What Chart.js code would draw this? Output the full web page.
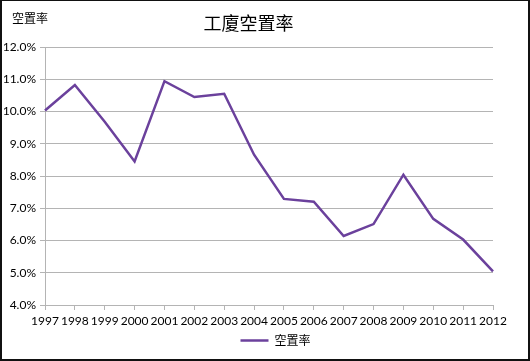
<!DOCTYPE html>
<html>
<head>
<meta charset="utf-8">
<script src="https://cdn.jsdelivr.net/npm/chart.js@4/dist/chart.umd.min.js"></script>
<style>
  html, body { margin: 0; padding: 0; background: #fff; }
  #wrap { position: relative; width: 530px; height: 361px; }
  #frame { position: absolute; left: 0; top: 0; width: 530px; height: 361px; box-sizing: border-box;
           border: 2px solid #111; border-top-width: 1px; pointer-events: none; }
  #ytitle { position: absolute; left: 12px; top: 9px; font: 12px "Noto Sans CJK TC", sans-serif; color: #000; line-height: 18px; }
</style>
</head>
<body>
<div id="wrap">
  <canvas id="c" width="530" height="361"></canvas>
  <div id="ytitle">空置率</div>
  <div id="frame"></div>
</div>
<script>
const chartTitle = '工廈空置率';
const seriesName = '空置率';
const years = ['1997','1998','1999','2000','2001','2002','2003','2004','2005','2006','2007','2008','2009','2010','2011','2012'];
const vacancyRate = [10.03, 10.82, 9.68, 8.45, 10.94, 10.45, 10.55, 8.66, 7.29, 7.20, 6.14, 6.51, 8.04, 6.67, 6.03, 5.04];
const yMin = 4, yMax = 12, yStep = 1;

const purple = '#6b419c';
const gridColor = '#b4b4b4';
const tickFont = { family: 'Lato, "Open Sans", sans-serif', size: 12 };

const legendShift = {
  id: 'legendShift',
  afterLayout(chart) {
    if (chart.legend) { chart.legend.left += 27; chart.legend.right += 27; }
  }
};

new Chart(document.getElementById('c'), {
  type: 'line',
  data: {
    labels: years,
    datasets: [{
      label: seriesName,
      data: vacancyRate,
      borderColor: purple,
      backgroundColor: purple,
      borderWidth: 2.5,
      pointRadius: 0,
      tension: 0,
      fill: false
    }]
  },
  plugins: [legendShift],
  options: {
    responsive: false,
    animation: false,
    devicePixelRatio: 1,
    layout: { padding: { left: 4, right: 37, top: 0, bottom: 4.6 } },
    plugins: {
      title: {
        display: true,
        text: chartTitle,
        color: '#000',
        font: { family: '"Noto Sans CJK TC", sans-serif', size: 18, weight: 'normal' },
        padding: { top: 12, bottom: 13.4 }
      },
      legend: {
        display: true,
        position: 'bottom',
        labels: {
          usePointStyle: true,
          pointStyle: 'line',
          pointStyleWidth: 28,
          color: '#000',
          padding: 7,
          font: { family: '"Noto Sans CJK TC", sans-serif', size: 12 }
        }
      },
      tooltip: { enabled: false }
    },
    scales: {
      x: {
        offset: false,
        afterFit: (s) => { s.height = s.height - 5; },
        grid: { display: true, drawOnChartArea: false, drawTicks: true, tickLength: 5, color: gridColor },
        border: { display: true, color: gridColor, width: 1 },
        ticks: { color: '#000', font: tickFont, padding: 4, maxRotation: 0, autoSkip: false }
      },
      y: {
        min: yMin, max: yMax,
        afterFit: (s) => { s.width = 41; },
        grid: { color: gridColor, lineWidth: 1, drawTicks: true, tickLength: 5 },
        border: { display: true, color: gridColor, width: 1 },
        ticks: {
          stepSize: yStep, color: '#000', font: tickFont, padding: 4,
          callback: (v) => v.toFixed(1) + '%'
        }
      }
    }
  }
});
</script>
</body>
</html>
